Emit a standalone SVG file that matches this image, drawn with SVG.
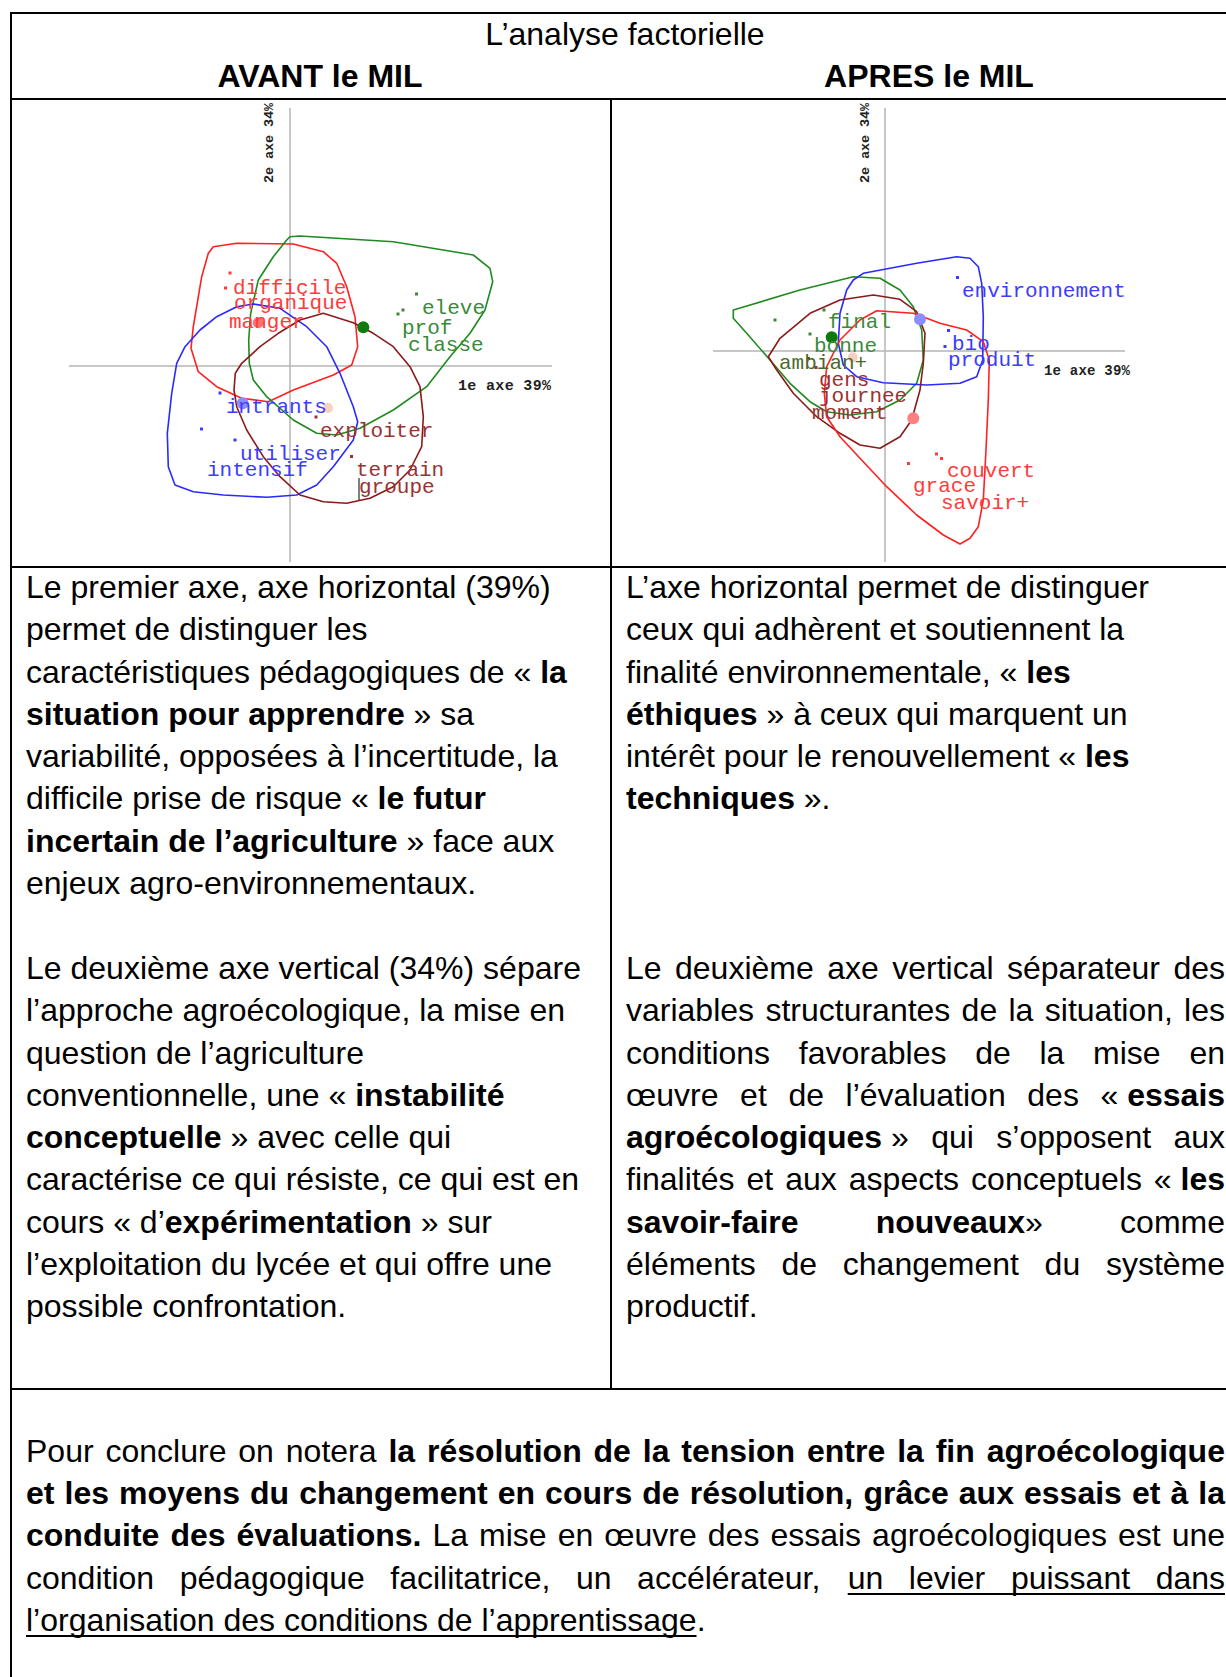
<svg xmlns="http://www.w3.org/2000/svg" width="1226" height="1677" viewBox="0 0 1226 1677">
<style>
.t{font-family:"Liberation Sans",Arial,sans-serif;font-size:32px;fill:#000}
.b{font-weight:bold}
.m{font-family:"Liberation Mono","Courier New",monospace;font-size:21px}
.ax{font-family:"Liberation Mono","Courier New",monospace;font-weight:bold;fill:#222}
.grid{stroke:#000;stroke-width:2;fill:none}
.axis{stroke:#b4b4b4;stroke-width:1.5}
.hull{fill:none;stroke-width:1.6;stroke-linejoin:round}
.lr{fill:#ff3c3c}.lg{fill:#3a8a3a}.lb{fill:#3c3cff}.lm{fill:#993333}.lo{fill:#4a6a2a}
.sr{stroke:#ff2020}.sg{stroke:#1f8a1f}.sb{stroke:#2a2aff}.sm{stroke:#8b1a1a}
.ul{stroke:#000;stroke-width:2}
</style>
<rect width="1226" height="1677" fill="#fff"/>

<g id="table">
<line class="grid" x1="11" y1="13" x2="1226" y2="13"/>
<line class="grid" x1="11" y1="12" x2="11" y2="1677"/>
<line class="grid" x1="11" y1="99" x2="1226" y2="99"/>
<line class="grid" x1="611" y1="99" x2="611" y2="1389"/>
<line class="grid" x1="11" y1="567" x2="1226" y2="567"/>
<line class="grid" x1="11" y1="1389" x2="1226" y2="1389"/>
</g>

<g id="header">
<text class="t" x="625" y="45" text-anchor="middle">L’analyse factorielle</text>
<text class="t b" x="320" y="87" text-anchor="middle">AVANT le MIL</text>
<text class="t b" x="929" y="87" text-anchor="middle">APRES le MIL</text>
</g>

<g id="plot-avant">
<line class="axis" x1="290" y1="108" x2="290" y2="562"/>
<line class="axis" x1="69" y1="366" x2="552" y2="366"/>
<text class="ax" font-size="13.5" transform="translate(273,183) rotate(-90)" textLength="80">2e axe 34%</text>
<text class="ax" font-size="15" x="458" y="390" textLength="93">1e axe 39%</text>
<polygon class="hull sr" points="213.3,246.7 236.7,243.3 293.3,244 323.3,251.7 336.7,263.3 346.7,286.7 355,316.7 357.7,346.7 351.7,365 333.3,375 293.3,390 268.3,401.7 241.7,398.3 216.7,386.7 198.3,371.7 191,348.3 193.3,326.7 201.7,276.7 208.3,253.3"/>
<polygon class="hull sg" points="290,236.7 300,236 393.3,241.7 473.3,255 490,268.3 492.7,281.7 485,310 470,333.3 450,356.7 426.7,386.7 393.3,410 360,428.3 336.7,435 316.7,433.3 293.3,420 266.7,396.7 253.3,380 249.3,363.3 248.7,340 250.7,313.3 258.3,280 273.3,256.7 286.7,240"/>
<polygon class="hull sb" points="253.3,304 280,308.3 306.7,326.7 326.7,346.7 340,373.3 353.3,406.7 357.7,421.7 353.3,440 333.3,466.7 316.7,485 296.7,495 266.7,497.3 223.3,495 193.3,491.7 175,485 168.3,466.7 167.3,433.3 171.7,393.3 176.7,363.3 185,346.7 200,330 216.7,316.7 236.7,306.7"/>
<polygon class="hull sm" points="323.3,313.3 353.3,322.7 373.3,333.3 393.3,346.7 410,366.7 420,386.7 423.3,416.7 421.7,446.7 410,470 393.3,486.7 370,498.3 346.7,503.3 323.3,501.7 300,495 280,476.7 263.3,456.7 246.7,430 236.7,406.7 234,390 235.3,373.3 241.7,363.3 260,346.7 278.3,333.3 300,320"/>
<line x1="359" y1="478" x2="359" y2="500" stroke="#000" stroke-width="1"/>
<g id="points-avant">
<rect class="lr" x="228.5" y="271.5" width="3" height="3"/>
<rect class="lr" x="224" y="286.5" width="3" height="3"/>
<rect class="lg" x="415" y="292.5" width="3" height="3"/>
<rect class="lg" x="401.5" y="308.5" width="3" height="3"/>
<rect class="lg" x="396.5" y="312.5" width="3" height="3"/>
<rect class="lb" x="218.5" y="391.5" width="3" height="3"/>
<rect class="lb" x="200" y="427.5" width="3" height="3"/>
<rect class="lb" x="233.5" y="438.5" width="3" height="3"/>
<rect class="lm" x="314.5" y="415.5" width="3" height="3"/>
<rect class="lm" x="350" y="455" width="3" height="3"/>
<circle cx="258.3" cy="322.7" r="5.5" fill="#ff7070"/>
<circle cx="363.3" cy="327.3" r="6" fill="#0f7a0f"/>
<circle cx="242.7" cy="403.3" r="6" fill="#8c8cff"/>
<circle cx="328" cy="408" r="5" fill="#f6d2c4"/>
</g>
<text class="m lr" x="233" y="294">difficile</text>
<text class="m lr" x="234" y="309">organique</text>
<text class="m lr" x="229" y="328">manger</text>
<text class="m lg" x="422" y="314">eleve</text>
<text class="m lg" x="402" y="334">prof</text>
<text class="m lg" x="408" y="351">classe</text>
<text class="m lb" x="226" y="413">intrants</text>
<text class="m lm" x="320" y="437">exploiter</text>
<text class="m lb" x="240" y="460">utiliser</text>
<text class="m lb" x="207" y="476">intensif</text>
<text class="m lm" x="356" y="476">terrain</text>
<text class="m lm" x="359" y="493">groupe</text>
</g>

<g id="plot-apres">
<line class="axis" x1="885" y1="108" x2="885" y2="562"/>
<line class="axis" x1="713" y1="351" x2="1125" y2="351"/>
<text class="ax" font-size="13.5" transform="translate(869,183) rotate(-90)" textLength="80">2e axe 34%</text>
<text class="ax" font-size="14" x="1044" y="375" textLength="86">1e axe 39%</text>
<polygon class="hull sg" points="733.3,310 800,290 853.3,276.7 880,278.3 900,290 913.3,306.7 921.7,330 923.3,360 916.7,383.3 900,400 876.7,411.7 850,415 826.7,411.7 810,401.7 790,383.3 770,360 746.7,333.3 733.3,318.3"/>
<polygon class="hull sb" points="863.3,273.3 916.7,263.3 956.7,256.7 970,258.3 978.3,266.7 981.7,283.3 983.3,316.7 982.7,360 976.7,376.7 960,383.3 926.7,385 883.3,382.7 856.7,376.7 843.3,365 838.3,343.3 840,313.3 846.7,290 853.3,280"/>
<polygon class="hull sm" points="768.3,356.7 780,338.3 810,313.3 840,300 873.3,295 900,299.3 916.7,311.7 925,333.3 923.3,363.3 920,390 911.7,420 900,436.7 880,448.3 860,445 840,433.3 816.7,416.7 793.3,393.3 776.7,370"/>
<polygon class="hull sr" points="876.7,310.7 913.3,313.3 940,323.3 966.7,330 983.3,341.7 989.3,360 988.3,400 986,450 983.3,500 978.3,526.7 970,538.3 960,544 943.3,535 916.7,515 886.7,486.7 860,458.3 840,436.7 826.7,416.7 824.3,393.3 826.7,366.7 840,340 860,320"/>
<g id="points-apres">
<rect class="lb" x="956" y="276" width="3" height="3"/>
<rect class="lb" x="947" y="329" width="3" height="3"/>
<rect class="lb" x="943.5" y="345" width="3" height="3"/>
<rect class="lg" x="773.5" y="318.5" width="3" height="3"/>
<rect class="lg" x="822.5" y="308.5" width="3" height="3"/>
<rect class="lg" x="808.5" y="332.5" width="3" height="3"/>
<rect class="lm" x="807" y="357" width="3" height="3"/>
<rect class="lm" x="814.5" y="366" width="3" height="3"/>
<rect class="lr" x="907" y="462" width="3" height="3"/>
<rect class="lr" x="935" y="452.5" width="3" height="3"/>
<rect class="lr" x="940" y="457" width="3" height="3"/>
<circle cx="920" cy="319.3" r="6" fill="#8c8cff"/>
<circle cx="831.7" cy="337.3" r="6" fill="#0a7a0a"/>
<circle cx="852.7" cy="357.3" r="5" fill="#f5cfc0"/>
<circle cx="913.3" cy="418.3" r="6" fill="#ff8080"/>
</g>
<text class="m lb" x="962" y="297">environnement</text>
<text class="m lg" x="828" y="328">final</text>
<text class="m lb" x="952" y="350">bio</text>
<text class="m lg" x="814" y="352">bonne</text>
<text class="m lb" x="948" y="366">produit</text>
<text class="m lo" x="779" y="369">ambian+</text>
<text class="m lm" x="819" y="386">gens</text>
<text class="m lm" x="819" y="402">journee</text>
<text class="m lm" x="812" y="419">moment</text>
<text class="m lr" x="947" y="477">couvert</text>
<text class="m lr" x="913" y="492">grace</text>
<text class="m lr" x="941" y="509">savoir+</text>
</g>

<g id="text-avant-axe1" class="t">
<text x="26" y="598">Le premier axe, axe horizontal (39%)</text>
<text x="26" y="640">permet de distinguer les</text>
<text x="26" y="683">caractéristiques pédagogiques de « <tspan class="b">la</tspan></text>
<text x="26" y="725"><tspan class="b">situation pour apprendre</tspan> » sa</text>
<text x="26" y="767">variabilité, opposées à l’incertitude, la</text>
<text x="26" y="809">difficile prise de risque « <tspan class="b">le futur</tspan></text>
<text x="26" y="852"><tspan class="b">incertain de l’agriculture</tspan> » face aux</text>
<text x="26" y="894">enjeux agro-environnementaux.</text>
</g>

<g id="text-avant-axe2" class="t">
<text x="26" y="979">Le deuxième axe vertical (34%) sépare</text>
<text x="26" y="1021">l’approche agroécologique, la mise en</text>
<text x="26" y="1064">question de l’agriculture</text>
<text x="26" y="1106">conventionnelle, une « <tspan class="b">instabilité</tspan></text>
<text x="26" y="1148"><tspan class="b">conceptuelle</tspan> » avec celle qui</text>
<text x="26" y="1190">caractérise ce qui résiste, ce qui est en</text>
<text x="26" y="1233">cours « d’<tspan class="b">expérimentation</tspan> » sur</text>
<text x="26" y="1275">l’exploitation du lycée et qui offre une</text>
<text x="26" y="1317">possible confrontation.</text>
</g>

<g id="text-apres-axe1" class="t">
<text x="626" y="598">L’axe horizontal permet de distinguer</text>
<text x="626" y="640">ceux qui adhèrent et soutiennent la</text>
<text x="626" y="683">finalité environnementale, « <tspan class="b">les</tspan></text>
<text x="626" y="725"><tspan class="b">éthiques</tspan> » à ceux qui marquent un</text>
<text x="626" y="767">intérêt pour le renouvellement « <tspan class="b">les</tspan></text>
<text x="626" y="809"><tspan class="b">techniques</tspan> ».</text>
</g>

<g id="text-apres-axe2" class="t">
<text y="979"><tspan x="626">Le</tspan><tspan x="675.0">deuxième</tspan><tspan x="827.2">axe</tspan><tspan x="892.2">vertical</tspan><tspan x="1007.0">séparateur</tspan><tspan x="1173.4">des</tspan></text>
<text y="1021"><tspan x="626">variables</tspan><tspan x="765.4">structurantes</tspan><tspan x="961.6">de</tspan><tspan x="1008.5">la</tspan><tspan x="1044.8">situation,</tspan><tspan x="1184.1">les</tspan></text>
<text y="1064"><tspan x="626">conditions</tspan><tspan x="798.8">favorables</tspan><tspan x="975.2">de</tspan><tspan x="1039.5">la</tspan><tspan x="1093.1">mise</tspan><tspan x="1189.4">en</tspan></text>
<text y="1106"><tspan x="626">œuvre</tspan><tspan x="740.1">et</tspan><tspan x="788.4">de</tspan><tspan x="845.6">l’évaluation</tspan><tspan x="1027.3">des</tspan><tspan x="1100.5">«&#160;</tspan><tspan class="b">essais</tspan></text>
<text y="1148"><tspan x="626" class="b">agroécologiques</tspan><tspan>&#160;»</tspan><tspan x="931.2">qui</tspan><tspan x="996.3">s’opposent</tspan><tspan x="1173.4">aux</tspan></text>
<text y="1190"><tspan x="626">finalités</tspan><tspan x="746.5">et</tspan><tspan x="785.2">aux</tspan><tspan x="848.8">aspects</tspan><tspan x="971.1">conceptuels</tspan><tspan x="1153.8">«&#160;</tspan><tspan class="b">les</tspan></text>
<text y="1233"><tspan x="626" class="b">savoir-faire</tspan><tspan x="875.7" class="b">nouveaux</tspan><tspan>»</tspan><tspan x="1120.1">comme</tspan></text>
<text y="1275"><tspan x="626">éléments</tspan><tspan x="781.5">de</tspan><tspan x="842.8">changement</tspan><tspan x="1044.6">du</tspan><tspan x="1105.9">système</tspan></text>
<text x="626" y="1317">productif.</text>
</g>

<g id="text-conclusion" class="t">
<text y="1462"><tspan x="26">Pour</tspan><tspan x="105.5">conclure</tspan><tspan x="238.3">on</tspan><tspan x="285.8">notera</tspan><tspan x="388.4" class="b">la</tspan><tspan x="427.0" class="b">résolution</tspan><tspan x="593.5" class="b">de</tspan><tspan x="642.8" class="b">la</tspan><tspan x="681.3" class="b">tension</tspan><tspan x="807.0" class="b">entre</tspan><tspan x="897.2" class="b">la</tspan><tspan x="935.7" class="b">fin</tspan><tspan x="986.7" class="b">agroécologique</tspan></text>
<text y="1504" class="b"><tspan x="26">et</tspan><tspan x="64.5">les</tspan><tspan x="119.1">moyens</tspan><tspan x="250.0">du</tspan><tspan x="299.2">changement</tspan><tspan x="497.7">en</tspan><tspan x="545.1">cours</tspan><tspan x="642.3">de</tspan><tspan x="689.7">résolution,</tspan><tspan x="863.4">grâce</tspan><tspan x="958.8">aux</tspan><tspan x="1024.0">essais</tspan><tspan x="1131.9">et</tspan><tspan x="1170.5">à</tspan><tspan x="1198.3">la</tspan></text>
<text y="1546"><tspan x="26" class="b">conduite</tspan><tspan x="170.4" class="b">des</tspan><tspan x="236.5" class="b">évaluations.</tspan><tspan x="432.5">La</tspan><tspan x="479.1">mise</tspan><tspan x="557.7">en</tspan><tspan x="604.3">œuvre</tspan><tspan x="707.8">des</tspan><tspan x="770.4">essais</tspan><tspan x="872.1">agroécologiques</tspan><tspan x="1118.0">est</tspan><tspan x="1171.7">une</tspan></text>
<text y="1589"><tspan x="26">condition</tspan><tspan x="179.7">pédagogique</tspan><tspan x="390.3">facilitatrice,</tspan><tspan x="575.9">un</tspan><tspan x="637.1">accélérateur,</tspan><tspan x="847.7">un</tspan><tspan x="908.8">levier</tspan><tspan x="1010.9">puissant</tspan><tspan x="1155.7">dans</tspan></text>
<text x="26" y="1631">l’organisation des conditions de l’apprentissage.</text>
<line class="ul" x1="847.7" y1="1594" x2="1225" y2="1594"/>
<line class="ul" x1="26" y1="1636" x2="696.5" y2="1636"/>
</g>
</svg>
